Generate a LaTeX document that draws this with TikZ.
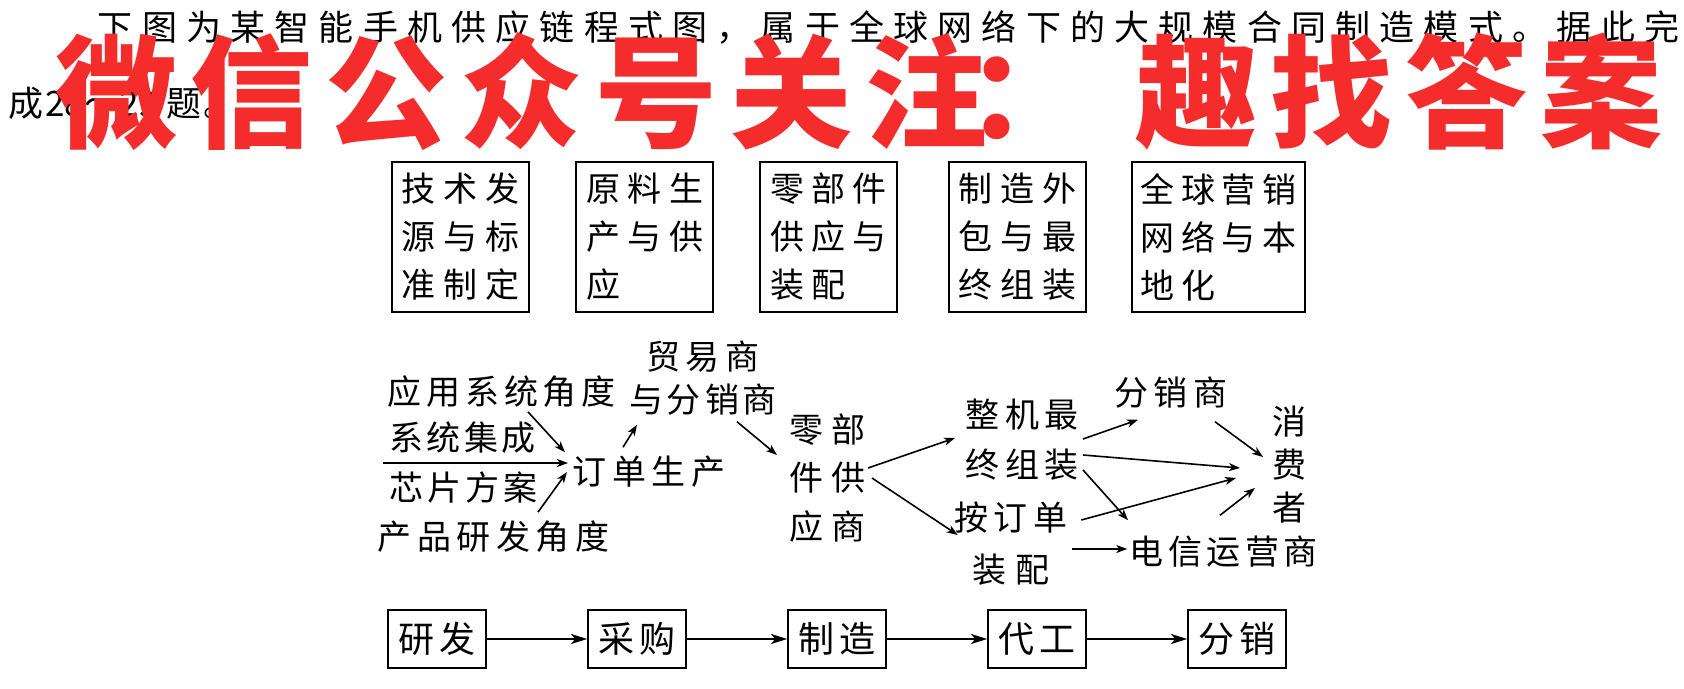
\documentclass[tikz,border=0pt]{standalone}
\usepackage{fontspec}
\setmainfont{Noto Sans CJK SC}
\newfontfamily\wmfont{Noto Sans CJK SC}
\usetikzlibrary{arrows.meta,calc}
\definecolor{wmred}{RGB}{244,44,44}
\newlength\cjkadv
\makeatletter
\newcommand\cjksp[2][19.5pt]{\setlength\cjkadv{#1}\cjk@sp#2\relax}
\def\cjk@sp#1{\ifx\relax#1\else\makebox[\cjkadv]{#1}\expandafter\cjk@sp\fi}
\makeatother
\tikzset{
  txt/.style={inner sep=0pt, outer sep=0pt, font=\fontsize{17pt}{24pt}\selectfont},
  topbox/.style={draw, line width=0.9pt, inner sep=0pt, minimum width=68.5pt, minimum height=75pt, align=left, font=\fontsize{17pt}{24pt}\selectfont},
  botbox/.style={draw, line width=0.9pt, inner sep=0pt, minimum width=49pt, minimum height=29pt, font=\fontsize{18pt}{20pt}\selectfont},
  arr/.style={-{Stealth[length=5.5pt,width=4pt,inset=1.5pt]}, line width=0.8pt},
  barr/.style={-{Stealth[length=8pt,width=5pt,inset=2pt]}, line width=0.9pt},
}
\begin{document}
\begin{tikzpicture}[x=0.5pt,y=-0.5pt]
\fill[white] (0,0) rectangle (1684,689);
\useasboundingbox (0,0) rectangle (1684,689);

% intro text
\node[anchor=west, inner sep=0pt, font=\fontsize{17.5pt}{20pt}\selectfont] (intro1) at (92.9,27)
  {\cjksp[22.1pt]{下图为某智能手机供应链程式图，属于全球网络下的大规模合同制造模式。据此完}};
\node[anchor=west, inner sep=0pt, font=\fontsize{17.5pt}{20pt}\selectfont] (intro2) at (8,103)
  {成\hspace{1pt}28～29\hspace{4pt}题\hspace{1pt}。};

% watermark
\node[anchor=west, inner sep=0pt, text=wmred, font=\wmfont\bfseries\fontsize{61pt}{61pt}\selectfont] (wm) at (49,91.5)
  {\cjksp[67.5pt]{微信公众号关注}\makebox[67.5pt][l]{\hspace{-14pt}：}\cjksp[67.5pt]{趣找答案}};

% top boxes
\node[topbox] (t1) at (460.5,237) {\cjksp[21pt]{技术发}\\\cjksp[21pt]{源与标}\\\cjksp[21pt]{准制定}};
\node[topbox] (t2) at (644.5,237) {\cjksp[20.75pt]{原料生}\\\cjksp[20.75pt]{产与供}\\\cjksp[20.75pt]{应}};
\node[topbox] (t3) at (828.5,237) {\cjksp[20.5pt]{零部件}\\\cjksp[20.5pt]{供应与}\\\cjksp[20.5pt]{装配}};
\node[topbox] (t4) at (1017.5,237) {\cjksp[21pt]{制造外}\\\cjksp[21pt]{包与最}\\\cjksp[21pt]{终组装}};
\node[topbox, minimum width=86.5pt] (t5) at (1218.5,237) {\cjksp[20.2pt]{全球营销}\\\cjksp[20.2pt]{网络与本}\\\cjksp[20.2pt]{地化}};

% middle text
\node[txt] (yingyong) at (501.5,392) {\cjksp[19.5pt]{应用系统角度}};
\node[txt] (xitong) at (462.5,438) {\cjksp[18.65pt]{系统集成}};
\node[txt] (xinpian) at (463.5,488) {\cjksp[18.85pt]{芯片方案}};
\node[txt] (chanpin) at (493.5,537) {\cjksp[19.8pt]{产品研发角度}};
\node[txt] (dingdan) at (649,472) {\cjksp[19.85pt]{订单生产}};
\node[txt, align=center, font=\fontsize{17pt}{21.5pt}\selectfont] (maoyi) at (703,378.5) {\cjksp[20pt]{贸易商}\\\cjksp[19pt]{与分销商}};
\node[txt, align=left, font=\fontsize{17pt}{24.25pt}\selectfont] (lingbu) at (827.5,478) {\cjksp[21pt]{零部}\\\cjksp[21pt]{件供}\\\cjksp[21pt]{应商}};
\node[txt, align=left, font=\fontsize{17pt}{25pt}\selectfont] (zhengji) at (1022,440) {\cjksp[20pt]{整机最}\\\cjksp[20pt]{终组装}};
\node[txt, align=center, font=\fontsize{17pt}{26pt}\selectfont] (andd) at (1011,544) {\cjksp[19.75pt]{按订单}\\\cjksp[21.5pt]{装配}};
\node[txt] (fenxiao) at (1171,393) {\cjksp[19.75pt]{分销商}};
\node[txt, align=center, font=\fontsize{17pt}{21.5pt}\selectfont] (xiaofei) at (1289,465) {消\\费\\者};
\node[txt] (dianxin) at (1223.5,552) {\cjksp[19.25pt]{电信运营商}};

% middle arrows
\coordinate (lstart) at (383,463);
\draw[arr] (lstart) -- ([xshift=-0.8pt]lstart -| dingdan.west);
\draw[arr] ([shift={(26.5,4)}]yingyong.south) -- ([shift={(-4.6,-4)}]dingdan.north west);
\draw[arr] ([shift={(44.5,-9)}]chanpin.north) -- ([shift={(-2.6,0)}]dingdan.west);
\draw[arr] ([shift={(-26,-9)}]dingdan.north) -- ([shift={(-66,9)}]maoyi.south);
\draw[arr] ([shift={(34,6)}]maoyi.south) -- ([shift={(-8.5,-23)}]lingbu.west);
\draw[arr] ([shift={(-1.5,-10)}]lingbu.east) -- ([shift={(-7,-2)}]zhengji.west);
\draw[arr] ([shift={(2.5,0)}]lingbu.east) -- ([shift={(6,-9)}]andd.west);
\draw[arr] ([shift={(1,-1)}]zhengji.east) -- ([shift={(-33,11)}]fenxiao.south);
\draw[arr] ([shift={(44,13)}]fenxiao.south) -- ([shift={(-9,-8)}]xiaofei.west);
\draw[arr] ([shift={(1,15)}]zhengji.east) -- ([shift={(-32,3)}]xiaofei.west);
\draw[arr] ([shift={(1,30)}]zhengji.east) -- ([shift={(0.75,-16)}]dianxin.north west);
\draw[arr] ([shift={(11,-24)}]andd.east) -- ([shift={(-36,13)}]xiaofei.west);
\draw[arr] ([shift={(-3.5,-21)}]dianxin.north) -- ([shift={(-17,23)}]xiaofei.west);
\draw[arr] ([shift={(2,5)}]andd.east) -- ([shift={(0,-3)}]dianxin.west);

% bottom row
\node[botbox] (b1) at (437,639) {\cjksp[20.5pt]{研发}};
\node[botbox] (b2) at (637,639) {\cjksp[20.5pt]{采购}};
\node[botbox] (b3) at (837,639) {\cjksp[20.5pt]{制造}};
\node[botbox] (b4) at (1037,639) {\cjksp[20.5pt]{代工}};
\node[botbox] (b5) at (1237,639) {\cjksp[20.5pt]{分销}};
\foreach \a/\b in {b1/b2,b2/b3,b3/b4,b4/b5} \draw[barr] (\a.east) -- (\b.west);
\end{tikzpicture}
\end{document}
